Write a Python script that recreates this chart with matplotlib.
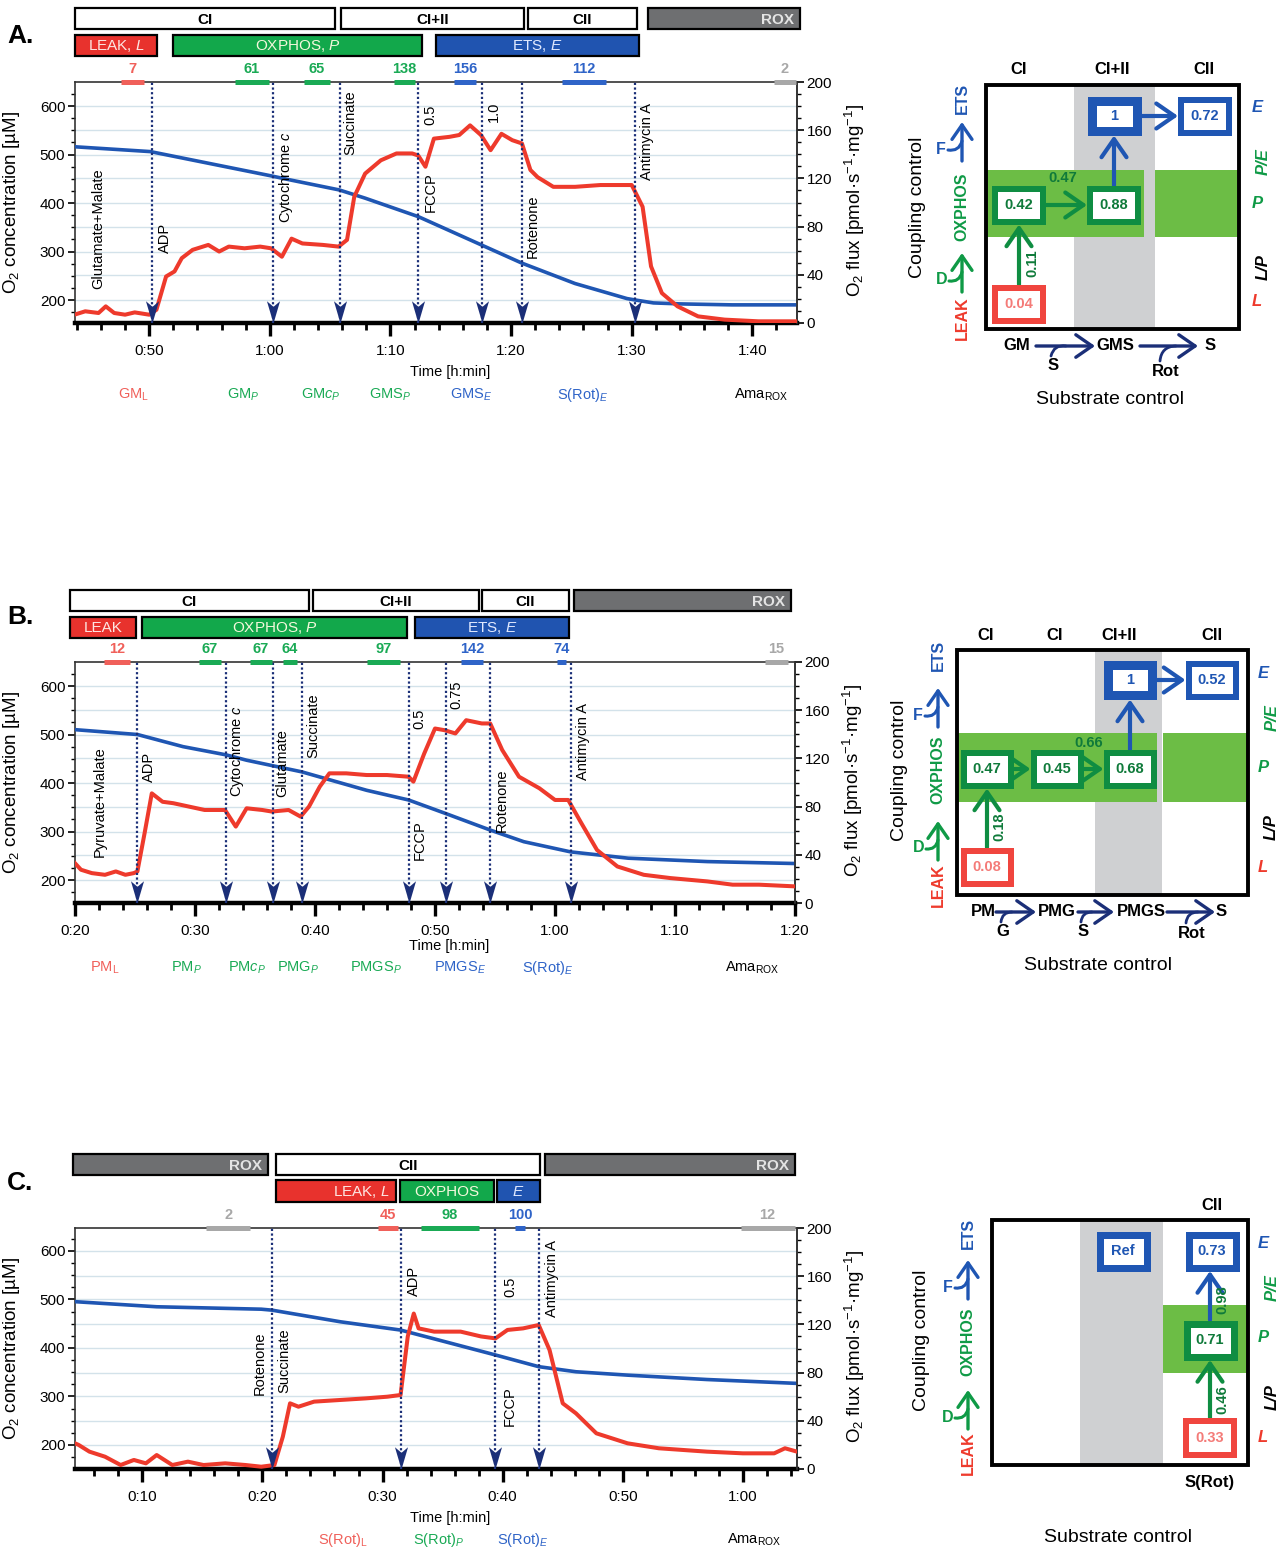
import matplotlib
matplotlib.use('Agg')
import matplotlib.pyplot as plt
import matplotlib.transforms as mtransforms
from matplotlib.patches import Rectangle, FancyArrowPatch
from matplotlib.path import Path
from matplotlib.ticker import MultipleLocator, FuncFormatter

plt.rcParams['font.family'] = ['Liberation Sans', 'DejaVu Sans']
plt.rcParams['mathtext.fontset'] = 'custom'
plt.rcParams['mathtext.rm'] = 'Liberation Sans'
plt.rcParams['mathtext.it'] = 'Liberation Sans:italic'
plt.rcParams['mathtext.bf'] = 'Liberation Sans:bold'

W, H = 1278, 1550

RED = '#ee3a2c'
BLUE = '#1f56b3'
NAVY = '#1b2f78'
GREEN = '#0f9a46'
GRID = '#d3e2ea'
LIME = '#6cbd45'
GRAYCOL = '#cfd0d2'
STATE_COL = {'r': '#f0605a', 'g': '#1aaa55', 'b': '#2f64c8', 'k': 'black', 'x': '#a8a8a8'}

# ---------------- panel A: glutamate+malate ----------------
a_flux_t = [43.8, 44.7, 45.8, 46.4, 47.1, 48.0, 48.8, 50.0, 50.6, 51.4, 52.1, 52.7, 53.6, 54.9,
            55.8, 56.6, 57.9, 59.2, 60.1, 61.0, 61.8, 62.7, 64.4, 65.7, 66.4, 67.0, 67.9, 69.2,
            70.5, 71.8, 72.3, 72.9, 73.6, 74.9, 75.7, 76.6, 77.5, 78.3, 79.2, 80.1, 80.9, 81.6,
            82.2, 83.5, 85.3, 87.4, 90.0, 90.9, 91.6, 92.5, 93.8, 95.5, 97.7, 100.5, 103.7]
a_flux = [6.9, 9.7, 8.3, 13.8, 8.3, 6.9, 8.8, 6.9, 11, 38.6, 42.8, 53.8, 60.7, 64.8,
          59.3, 63.4, 62, 63.4, 62, 55, 70, 66, 64.8, 63.4, 69, 104.8, 124, 135,
          140.7, 140.7, 139, 129.7, 153, 154.5, 156, 164, 156, 143.4, 157, 151.7, 149, 127,
          121, 113, 113, 114.5, 114.5, 96.5, 47, 24.8, 13.8, 5.5, 2.8, 1.4, 1.4]
a_o2_t = [43.8, 50.1, 54.9, 60.1, 61.8, 65.75, 67.9, 72.3, 76.6, 80.9, 85.3, 89.6, 90.3,
          91.8, 94.0, 98.3, 103.7]
a_o2 = [516, 506, 482, 456, 447, 427, 410, 372, 324, 276, 234, 203, 200, 194, 192, 190, 190]
a_events = [50.2, 60.3, 65.8, 72.25, 77.6, 80.9, 90.3]
a_ev_text = ['Glutamate+Malate', 'ADP', 'Cytochrome $\\mathit{c}$', 'Succinate', '0.5', 'FCCP',
             '1.0', 'Rotenone', 'Antimycin A']
a_ev_t = [45.8, 51.3, 61.3, 66.7, 73.3, 73.3, 78.6, 81.8, 91.3]
a_ev_y = [78, 71, 121, 166, 173, 109, 175, 80, 151]
a_mark_t0 = [47.7, 57.1, 62.8, 70.3, 75.3, 84.2, 101.8]
a_mark_t1 = [49.6, 59.9, 65.0, 72.0, 77.1, 87.9, 103.6]
a_mark_val = [7, 61, 65, 138, 156, 112, 2]
a_mark_col = ['r', 'g', 'g', 'g', 'b', 'b', 'x']
a_states = ['GM$_{\\mathrm{L}}$', 'GM$_{\\mathit{P}}$', 'GM$\\mathit{c}_{\\mathit{P}}$',
            'GMS$_{\\mathit{P}}$', 'GMS$_{\\mathit{E}}$', 'S(Rot)$_{\\mathit{E}}$', 'Ama$_{\\mathrm{ROX}}$']
a_state_t = [48.7, 57.8, 64.2, 70.0, 76.7, 85.9, 100.7]
a_state_col = ['r', 'g', 'g', 'g', 'b', 'b', 'k']

# ---------------- panel B: pyruvate+malate ----------------
b_flux_t = [20.0, 20.5, 21.4, 22.5, 23.4, 24.2, 24.9, 25.2, 25.8, 26.4, 27.3, 28.2, 29.5, 30.8,
            32.5, 33.4, 34.3, 35.6, 36.4, 37.8, 38.8, 39.5, 40.4, 41.2, 42.6, 44.3, 46.0, 47.8,
            48.2, 49.1, 50.0, 50.8, 51.7, 52.6, 53.9, 54.6, 55.6, 57.0, 58.7, 60.0, 61.1, 62.2,
            63.5, 65.2, 67.4, 69.6, 72.7, 74.8, 77.0, 80.0]
b_flux = [33, 27.6, 24.8, 23.4, 26.2, 23.4, 24.8, 26.2, 58, 91, 84, 82.8, 80, 77.2,
          77.2, 63.4, 78.6, 77.2, 75.9, 77.2, 71.7, 80, 96.6, 107.6, 107.6, 106.2, 106.2, 104.8,
          100.7, 124, 144.8, 143.4, 140.7, 151.7, 149, 149, 127, 104.8, 95.2, 85.5, 85.5, 66.2,
          44, 30.3, 23.4, 20.7, 17.9, 15.2, 15.2, 13.8]
b_o2_t = [20.0, 25.2, 29.0, 32.6, 34.3, 38.9, 44.3, 47.8, 50.9, 54.6, 57.4, 61.3, 66.1, 72.7, 80.0]
b_o2 = [510, 500, 475, 458, 447, 423, 385, 365, 337, 303, 279, 258, 245, 238, 234]
b_events = [25.2, 32.6, 36.5, 38.9, 47.8, 50.9, 54.6, 61.3]
b_ev_text = ['Pyruvate+Malate', 'ADP', 'Cytochrome $\\mathit{c}$', 'Glutamate', 'Succinate', '0.5',
             'FCCP', '0.75', 'Rotenone', 'Antimycin A']
b_ev_t = [22.05, 26.2, 33.5, 37.3, 39.9, 48.7, 48.7, 51.8, 55.6, 62.3]
b_ev_y = [84, 113, 126, 116, 147, 153, 52, 173, 85, 134]
b_mark_t0 = [22.4, 30.3, 34.6, 37.3, 44.3, 52.2, 60.2, 77.5]
b_mark_t1 = [24.6, 32.2, 36.4, 38.5, 47.1, 54.0, 60.9, 79.4]
b_mark_val = [12, 67, 67, 64, 97, 142, 74, 15]
b_mark_col = ['r', 'g', 'g', 'g', 'g', 'b', 'b', 'x']
b_states = ['PM$_{\\mathrm{L}}$', 'PM$_{\\mathit{P}}$', 'PM$\\mathit{c}_{\\mathit{P}}$',
            'PMG$_{\\mathit{P}}$', 'PMGS$_{\\mathit{P}}$', 'PMGS$_{\\mathit{E}}$',
            'S(Rot)$_{\\mathit{E}}$', 'Ama$_{\\mathrm{ROX}}$']
b_state_t = [22.5, 29.25, 34.3, 38.6, 45.1, 52.1, 59.35, 76.4]
b_state_col = ['r', 'g', 'g', 'g', 'g', 'b', 'b', 'k']

# ---------------- panel C: succinate+rotenone ----------------
c_flux_t = [4.4, 4.7, 5.6, 6.9, 8.2, 9.3, 10.3, 11.2, 12.5, 13.8, 15.1, 16.9, 18.6, 19.9,
            21.0, 21.7, 22.3, 23.0, 24.3, 26.5, 28.6, 30.4, 31.5, 32.1, 32.6, 33.0, 34.3, 36.5,
            38.2, 39.4, 40.4, 41.7, 43.0, 43.9, 45.0, 46.1, 47.8, 50.4, 53.0, 57.0, 60.0, 62.6,
            63.5, 64.5]
c_flux = [21.3, 20, 14.4, 10.2, 3.3, 7.5, 4.7, 11.6, 3.3, 6.1, 3.3, 4.7, 3.3, 1.9,
          3.3, 26.8, 54.5, 51.7, 55.9, 57.3, 58.6, 60, 61.4, 110, 129, 116.7, 114, 114,
          110, 108.4, 115.4, 116.7, 119.5, 98.8, 54.5, 46.2, 29.6, 21.3, 17.2, 14.4, 13, 13,
          17.2, 14.4]
c_o2_t = [4.4, 11.2, 19.9, 20.8, 26.5, 31.5, 35.2, 39.4, 43.0, 46.1, 50.4, 57.0, 64.5]
c_o2 = [495.5, 485, 480, 478, 454, 437, 413, 385.6, 361.5, 351, 344, 335, 327]
c_events = [20.8, 31.5, 39.4, 43.0]
c_ev_text = ['Rotenone', 'Succinate', 'ADP', '0.5', 'FCCP', 'Antimycin A']
c_ev_t = [19.8, 21.8, 32.6, 40.6, 40.6, 44.1]
c_ev_y = [88, 90, 156, 151, 52, 158]
c_mark_t0 = [15.3, 29.6, 33.2, 41.0, 59.8]
c_mark_t1 = [19.0, 31.3, 38.0, 41.9, 64.3]
c_mark_val = [2, 45, 98, 100, 12]
c_mark_col = ['x', 'r', 'g', 'b', 'x']
c_states = ['S(Rot)$_{\\mathrm{L}}$', 'S(Rot)$_{\\mathit{P}}$', 'S(Rot)$_{\\mathit{E}}$',
            'Ama$_{\\mathrm{ROX}}$']
c_state_t = [26.7, 34.7, 41.7, 60.9]
c_state_col = ['r', 'g', 'b', 'k']

# flux control ratios shown in the coupling/substrate schemes
a_fcr = ['1', '0.72', '0.42', '0.88', '0.04']
a_links = ['0.11', '0.47']
b_fcr = ['1', '0.52', '0.47', '0.45', '0.68', '0.08']
b_links = ['0.18', '0.66']
c_fcr = ['Ref', '0.73', '0.71', '0.33']
c_links = ['0.46', '0.98']

fig = plt.figure(figsize=(W / 100, H / 100), dpi=100)
cv = fig.add_axes([0, 0, 1, 1])
cv.set_xlim(0, W)
cv.set_ylim(H, 0)
cv.axis('off')

# notched arrowhead, tip at the origin
ARROW = Path([(0, 0), (-0.47, 1.6), (0, 1.2), (0.47, 1.6), (0, 0)],
             [Path.MOVETO, Path.LINETO, Path.LINETO, Path.LINETO, Path.CLOSEPOLY])


def hmin(v, pos):
    m = int(round(v))
    return f"{m // 60}:{m % 60:02d}"


def trace_panel(box, xlim, o2lim, flux_t, flux, o2_t, o2, events, ev_text, ev_t, ev_y,
                m0, m1, mval, mcol, states, st_t, st_col, time_y, state_y):
    x0, y0, x1, y1 = box
    ax = fig.add_axes([x0 / W, 1 - y1 / H, (x1 - x0) / W, (y1 - y0) / H])
    ax2 = ax.twinx()
    lo, hi = o2lim
    ax.set_xlim(*xlim)
    ax.set_ylim(lo, hi)
    ax2.set_ylim(0, 200)
    for c in range(200, 601, 100):
        ax.axhline(c, color=GRID, lw=1, zorder=0)
    for f in range(40, 161, 40):
        ax.axhline(lo + f / 200 * (hi - lo), color=GRID, lw=1, zorder=0)
    ax.plot(o2_t, o2, color=BLUE, lw=2.6, zorder=3)
    ax2.plot(flux_t, flux, color=RED, lw=2.9, zorder=3, solid_joinstyle='round')
    for t in events:
        ax2.plot([t, t], [0, 200], ls=(0, (1, 1.1)), color=NAVY, lw=1.6, zorder=4)
        ax2.plot([t], [0], marker=ARROW, ms=32, color=NAVY, mec='none', clip_on=False, zorder=6)
    for s, t, y in zip(ev_text, ev_t, ev_y):
        ax2.text(t, y, s, rotation=90, ha='center', va='center', fontsize=10.5, zorder=5)
    for a, b, v, c in zip(m0, m1, mval, mcol):
        ax2.plot([a, b], [200, 200], color=STATE_COL[c], lw=3.6, solid_capstyle='butt',
                 clip_on=False, zorder=7)
        ax2.annotate(str(v), ((a + b) / 2, 200), xytext=(0, 4), textcoords='offset points',
                     ha='center', va='bottom', color=STATE_COL[c], fontsize=10.5,
                     fontweight='bold', annotation_clip=False)
    blend = mtransforms.blended_transform_factory(ax.transData, ax.transAxes)
    for s, t, c in zip(states, st_t, st_col):
        ax.text(t, state_y, s, transform=blend, ha='center', va='center', fontsize=10.5,
                color=STATE_COL[c])
    ax.text(0.52, time_y, 'Time [h:min]', transform=ax.transAxes, ha='center', va='center',
            fontsize=10.5)

    ax.xaxis.set_major_locator(MultipleLocator(10))
    ax.xaxis.set_minor_locator(MultipleLocator(2))
    ax.xaxis.set_major_formatter(FuncFormatter(hmin))
    ax.yaxis.set_major_locator(MultipleLocator(100))
    ax.yaxis.set_minor_locator(MultipleLocator(25))
    ax2.yaxis.set_major_locator(MultipleLocator(40))
    ax2.yaxis.set_minor_locator(MultipleLocator(10))
    ax.tick_params(axis='x', which='major', length=9, width=2.4, labelsize=11, pad=6)
    ax.tick_params(axis='x', which='minor', length=5, width=2)
    ax.tick_params(axis='y', which='major', length=5, width=1.2, labelsize=11, pad=2)
    ax.tick_params(axis='y', which='minor', length=3, width=1)
    ax2.tick_params(axis='y', which='major', length=5, width=1.2, labelsize=11, pad=2)
    ax2.tick_params(axis='y', which='minor', length=3, width=1)
    ax.spines['bottom'].set_linewidth(3.2)
    for k in ('top', 'left', 'right'):
        ax.spines[k].set_linewidth(1.2)
        ax.spines[k].set_color('#333333')
    for k in ('top', 'left', 'bottom'):
        ax2.spines[k].set_visible(False)
    ax2.spines['right'].set_linewidth(1.2)
    ax2.spines['right'].set_color('#333333')
    ax.set_ylabel('O$_2$ concentration [µM]', fontsize=13.5)
    ax.yaxis.set_label_coords(-0.073, 0.5)
    ax2.set_ylabel('O$_2$ flux [pmol·s$^{-1}$·mg$^{-1}$]', fontsize=13.5)
    ax2.yaxis.set_label_coords(1.064, 0.51)
    return ax, ax2


trace_panel((75, 82, 797, 323), (43.85, 103.7), (152.6, 649.5), a_flux_t, a_flux, a_o2_t, a_o2,
            a_events, a_ev_text, a_ev_t, a_ev_y, a_mark_t0, a_mark_t1, a_mark_val, a_mark_col,
            a_states, a_state_t, a_state_col, -0.203, -0.30)
trace_panel((75, 662, 795, 903), (20, 80), (152.6, 649.5), b_flux_t, b_flux, b_o2_t, b_o2,
            b_events, b_ev_text, b_ev_t, b_ev_y, b_mark_t0, b_mark_t1, b_mark_val, b_mark_col,
            b_states, b_state_t, b_state_col, -0.178, -0.27)
trace_panel((75, 1228, 797, 1469), (4.4, 64.5), (150.5, 647.4), c_flux_t, c_flux, c_o2_t, c_o2,
            c_events, c_ev_text, c_ev_t, c_ev_y, c_mark_t0, c_mark_t1, c_mark_val, c_mark_col,
            c_states, c_state_t, c_state_col, -0.203, -0.295)

# ---------------- state headers above each trace ----------------
HEAD_STYLE = {'w': ('white', 'black', 'bold'), 'k': ('#6e6f71', '#e4e4e4', 'bold'),
              'r': ('#e8322d', '#fde6e2', 'normal'), 'g': ('#12a84b', '#f4f8dc', 'normal'),
              'b': ('#2054b0', '#e2eaff', 'normal')}

headers = [
    (8, 29, [(75, 335, 'CI', 'w', 'c'), (341, 524, 'CI+II', 'w', 'c'), (528, 637, 'CII', 'w', 'c'),
             (648, 800, 'ROX', 'k', 'r')]),
    (35, 56, [(75, 157, 'LEAK, $\\mathit{L}$', 'r', 'c'), (173, 422, 'OXPHOS, $\\mathit{P}$', 'g', 'c'),
              (436, 639, 'ETS, $\\mathit{E}$', 'b', 'c')]),
    (590, 611, [(70, 309, 'CI', 'w', 'c'), (313, 479, 'CI+II', 'w', 'c'), (482, 569, 'CII', 'w', 'c'),
                (574, 791, 'ROX', 'k', 'r')]),
    (617, 638, [(70, 136, 'LEAK', 'r', 'c'), (142, 407, 'OXPHOS, $\\mathit{P}$', 'g', 'c'),
                (415, 569, 'ETS, $\\mathit{E}$', 'b', 'c')]),
    (1154, 1175, [(73, 268, 'ROX', 'k', 'r'), (276, 540, 'CII', 'w', 'c'), (545, 795, 'ROX', 'k', 'r')]),
    (1180, 1202, [(276, 396, 'LEAK, $\\mathit{L}$', 'r', 'r'), (400, 494, 'OXPHOS', 'g', 'c'),
                  (497, 540, '$\\mathit{E}$', 'b', 'c')]),
]
for y0, y1, bars in headers:
    for x0, x1, label, kind, align in bars:
        fc, tc, fw = HEAD_STYLE[kind]
        cv.add_patch(Rectangle((x0, y0), x1 - x0, y1 - y0, fc=fc, ec='black', lw=1.6, zorder=2))
        if align == 'r':
            cv.text(x1 - 6, (y0 + y1) / 2 + 1, label, ha='right', va='center', color=tc,
                    fontsize=11, fontweight=fw, zorder=3)
        else:
            cv.text((x0 + x1) / 2, (y0 + y1) / 2 + 1, label, ha='center', va='center', color=tc,
                    fontsize=11, fontweight=fw, zorder=3)

for letter, x, y in (('A.', 7, 36), ('B.', 7, 617), ('C.', 7, 1183)):
    cv.text(x, y, letter, ha='left', va='center', fontsize=19, fontweight='bold')

# ---------------- coupling / substrate control schemes ----------------
BOXCOL = {'b': (BLUE, BLUE), 'g': ('#0f8d42', '#0f7a3a'), 'r': ('#f0453e', '#f47b78')}
ARR = '->,head_length=0.65,head_width=0.45'


def draw_scheme(s, labels, link_labels):
    fx0, fy0, fx1, fy1 = s['frame']
    gx0, gx1 = s['gray']
    cv.add_patch(Rectangle((gx0, fy0), gx1 - gx0, fy1 - fy0, fc=GRAYCOL, ec='none', zorder=1))
    by0, by1 = s['band']
    for a, b in s['green']:
        cv.add_patch(Rectangle((a, by0), b - a, by1 - by0, fc=LIME, ec='none', zorder=1))
    cv.add_patch(Rectangle((fx0, fy0), fx1 - fx0, fy1 - fy0, fc='none', ec='black', lw=2.8, zorder=5))
    for txt, x in s['heads']:
        cv.text(x, s['head_y'], txt, ha='center', va='center', fontsize=12, fontweight='bold')

    bw, bh = s['box']
    for txt, (cx, cy, kind, stroke) in zip(labels, s['boxes']):
        ec, tc = BOXCOL[kind]
        cv.add_patch(Rectangle((cx - (bw - stroke) / 2, cy - (bh - stroke) / 2), bw - stroke,
                               bh - stroke, fc='white', ec=ec, lw=stroke * 0.72, zorder=4))
        cv.text(cx, cy, txt, ha='center', va='center', color=tc, fontsize=10.5,
                fontweight='bold', zorder=6)
    for i, j, kind in s['links']:
        ax_, ay_ = s['boxes'][i][:2]
        bx_, by_ = s['boxes'][j][:2]
        if abs(ax_ - bx_) < 5:
            p0, p1 = (ax_, ay_ - bh / 2), (ax_, by_ + bh / 2)
        else:
            p0, p1 = (ax_ + bw / 2, ay_), (bx_ - bw / 2, by_)
        cv.add_patch(FancyArrowPatch(p0, p1, arrowstyle=ARR, mutation_scale=20, lw=3,
                                     color=BOXCOL[kind][0], shrinkA=0, shrinkB=0, zorder=3))
    for txt, (x, y, rot) in zip(link_labels, s['link_pos']):
        cv.text(x, y, txt, ha='center', va='center', rotation=rot, color='#0f7a3a',
                fontsize=10.5, fontweight='bold', zorder=6)

    sx = s['side_x']
    for txt, y, col in s['side']:
        cv.text(sx, y, txt, rotation=90, ha='center', va='center', color=col, fontsize=11.5,
                fontweight='bold')
    for txt, x, y, col in s['fd']:
        cv.text(x, y, txt, ha='center', va='center', color=col, fontsize=11.5, fontweight='bold')
        cv.add_patch(FancyArrowPatch((sx, y + 12), (sx, y - 27), arrowstyle=ARR,
                                     mutation_scale=16, lw=2.4, color=col, shrinkA=0, shrinkB=0))
        cv.add_patch(FancyArrowPatch((x + 7, y + 1), (sx, y - 8), arrowstyle='-',
                                     connectionstyle='arc3,rad=0.45', lw=2.2, color=col,
                                     shrinkA=0, shrinkB=0))
    cx_, cy_ = s['coupling']
    cv.text(cx_, cy_, 'Coupling control', rotation=90, ha='center', va='center', fontsize=14)
    for txt, x, y, rot, col in s['right']:
        cv.text(x, y, txt, rotation=rot, ha='center', va='center', color=col, fontsize=12,
                fontweight='bold', fontstyle='italic')

    for txt, x, y in s['subs']:
        cv.text(x, y, txt, ha='center', va='center', fontsize=12, fontweight='bold')
    for x0, x1, y in s['sub_arrows']:
        cv.add_patch(FancyArrowPatch((x0, y), (x1, y), arrowstyle=ARR, mutation_scale=18, lw=2.4,
                                     color=NAVY, shrinkA=0, shrinkB=0))
    for x0, y0, x1, y1 in s['sub_hooks']:
        cv.add_patch(FancyArrowPatch((x0, y0), (x1, y1), arrowstyle='-',
                                     connectionstyle='arc3,rad=-0.45', lw=2, color=NAVY,
                                     shrinkA=0, shrinkB=0))
    tx, ty = s['substrate']
    cv.text(tx, ty, 'Substrate control', ha='center', va='center', fontsize=14)


scheme_a = dict(
    frame=(986, 85, 1239, 329), gray=(1074, 1155), band=(170, 237),
    green=[(986, 1144), (1155, 1239)],
    heads=[('CI', 1019), ('CI+II', 1112), ('CII', 1204)], head_y=70,
    box=(54, 39),
    boxes=[(1114, 116, 'b', 9), (1205, 116, 'b', 6), (1019, 205, 'g', 6), (1114, 205, 'g', 6),
           (1019, 304, 'r', 6)],
    links=[(4, 2, 'g'), (2, 3, 'g'), (3, 0, 'b'), (0, 1, 'b')],
    link_pos=[(1032, 263, 90), (1063, 178, 0)],
    side_x=962, side=[('ETS', 98, BLUE), ('OXPHOS', 207, GREEN), ('LEAK', 318, RED)],
    fd=[('F', 941, 149, BLUE), ('D', 942, 280, GREEN)],
    coupling=(917, 207),
    right=[('E', 1257, 108, 0, BLUE), ('P/E', 1263, 162, 90, GREEN), ('P', 1257, 203, 0, GREEN),
           ('L/P', 1263, 267, 90, 'black'), ('L', 1257, 302, 0, RED)],
    subs=[('GM', 1017, 346), ('GMS', 1115, 346), ('S', 1210, 346), ('S', 1053, 366),
          ('Rot', 1166, 372)],
    sub_arrows=[(1036, 1095, 346), (1140, 1198, 346)],
    sub_hooks=[(1051, 356, 1066, 346), (1160, 361, 1176, 346)],
    substrate=(1110, 400),
)

scheme_b = dict(
    frame=(957, 650, 1248, 895), gray=(1095, 1162), band=(733, 802),
    green=[(957, 1157), (1163, 1248)],
    heads=[('CI', 986), ('CI', 1055), ('CI+II', 1119), ('CII', 1212)], head_y=635,
    box=(53, 39),
    boxes=[(1130, 680, 'b', 9), (1212, 680, 'b', 6), (987, 769, 'g', 6), (1057, 769, 'g', 6),
           (1130, 769, 'g', 6), (987, 867, 'r', 6)],
    links=[(5, 2, 'g'), (2, 3, 'g'), (3, 4, 'g'), (4, 0, 'b'), (0, 1, 'b')],
    link_pos=[(999, 827, 90), (1089, 743, 0)],
    side_x=938, side=[('ETS', 655, BLUE), ('OXPHOS', 770, GREEN), ('LEAK', 885, RED)],
    fd=[('F', 918, 715, BLUE), ('D', 919, 848, GREEN)],
    coupling=(900, 770),
    right=[('E', 1263, 673, 0, BLUE), ('P/E', 1272, 718, 90, GREEN), ('P', 1263, 767, 0, GREEN),
           ('L/P', 1271, 827, 90, 'black'), ('L', 1263, 867, 0, RED)],
    subs=[('PM', 983, 912), ('PMG', 1057, 912), ('PMGS', 1141, 912), ('S', 1221, 912),
          ('G', 1003, 932), ('S', 1083, 932), ('Rot', 1192, 933)],
    sub_arrows=[(996, 1036, 912), (1078, 1114, 912), (1167, 1215, 912)],
    sub_hooks=[(1001, 922, 1012, 912), (1081, 922, 1092, 912), (1186, 923, 1198, 912)],
    substrate=(1098, 965),
)

scheme_c = dict(
    frame=(992, 1220, 1248, 1465), gray=(1080, 1163), band=(1305, 1373),
    green=[(1163, 1248)],
    heads=[('CII', 1212)], head_y=1205,
    box=(54, 40),
    boxes=[(1123, 1251, 'b', 7), (1212, 1251, 'b', 7), (1210, 1340, 'g', 7), (1210, 1438, 'r', 6)],
    links=[(3, 2, 'g'), (2, 1, 'b')],
    link_pos=[(1222, 1400, 90), (1222, 1300, 90)],
    side_x=968, side=[('ETS', 1233, BLUE), ('OXPHOS', 1342, GREEN), ('LEAK', 1453, RED)],
    fd=[('F', 948, 1287, BLUE), ('D', 948, 1417, GREEN)],
    coupling=(922, 1340),
    right=[('E', 1263, 1243, 0, BLUE), ('P/E', 1272, 1288, 90, GREEN), ('P', 1263, 1338, 0, GREEN),
           ('L/P', 1272, 1397, 90, 'black'), ('L', 1263, 1437, 0, RED)],
    subs=[('S(Rot)', 1210, 1483)],
    sub_arrows=[], sub_hooks=[],
    substrate=(1118, 1537),
)

draw_scheme(scheme_a, a_fcr, a_links)
draw_scheme(scheme_b, b_fcr, b_links)
draw_scheme(scheme_c, c_fcr, c_links)

fig.savefig('out.png', dpi=100)
